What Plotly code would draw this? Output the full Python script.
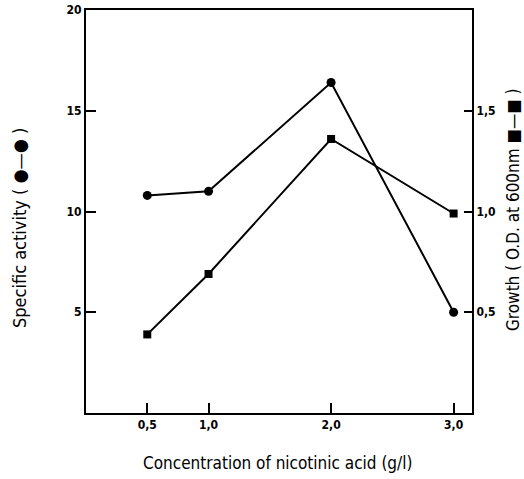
import plotly.graph_objects as go

conc = [0.5, 1.0, 2.0, 3.0]
specific_activity = [10.8, 11.0, 16.4, 5.0]
growth_od = [0.39, 0.69, 1.36, 0.99]

x_tickvals = [0.5, 1.0, 2.0, 3.0]
x_ticktext = ["0,5", "1,0", "2,0", "3,0"]
y1_tickvals = [5, 10, 15, 20]
y1_ticktext = ["5", "10", "15", "20"]
y2_tickvals = [0.5, 1.0, 1.5]
y2_ticktext = ["0,5", "1,0", "1,5"]

FONT = "DejaVu Sans Condensed, DejaVu Sans, sans-serif"

fig = go.Figure()
fig.add_trace(go.Scatter(x=conc, y=specific_activity, mode="lines+markers",
                         line=dict(color="black", width=2),
                         marker=dict(symbol="circle", size=9, color="black"),
                         yaxis="y", showlegend=False))
fig.add_trace(go.Scatter(x=conc, y=growth_od, mode="lines+markers",
                         line=dict(color="black", width=2),
                         marker=dict(symbol="square", size=8, color="black"),
                         yaxis="y2", showlegend=False))

tickfont = dict(family=FONT, size=12, color="black", weight="bold")

fig.update_layout(
    width=524, height=479,
    margin=dict(l=86, r=52, t=10, b=66, autoexpand=False),
    paper_bgcolor="white", plot_bgcolor="white",
    font=dict(family=FONT, color="black"),
    xaxis=dict(range=[0, 3.15], tickvals=x_tickvals, ticktext=x_ticktext,
               ticks="inside", ticklen=10, tickwidth=2, tickcolor="black",
               showline=True, linecolor="black", linewidth=2, mirror=True,
               showgrid=False, zeroline=False, tickfont=tickfont),
    yaxis=dict(range=[0, 20], tickvals=y1_tickvals, ticktext=y1_ticktext,
               ticks="inside", ticklen=10, tickwidth=2, tickcolor="black",
               showline=True, linecolor="black", linewidth=2,
               showgrid=False, zeroline=False, tickfont=tickfont),
    yaxis2=dict(range=[0, 2], tickvals=y2_tickvals, ticktext=y2_ticktext,
                overlaying="y", side="right",
                ticks="inside", ticklen=8, tickwidth=2, tickcolor="black",
                showline=True, linecolor="black", linewidth=2,
                showgrid=False, zeroline=False, tickfont=tickfont),
)

# plot area: x 86..472 (386 px), y 10..413 (403 px)
fig.add_annotation(text="Concentration of nicotinic acid (g/l)",
                   xref="paper", yref="paper", x=(277 - 86) / 386, y=-(463 - 413) / 403,
                   xanchor="center", yanchor="middle", showarrow=False,
                   font=dict(family=FONT, size=17, color="black"))
fig.add_annotation(text="Specific activity ( ●—● )",
                   xref="paper", yref="paper", x=(19 - 86) / 386, y=(413 - 228) / 403,
                   xanchor="center", yanchor="middle", showarrow=False,
                   textangle=-90, font=dict(family=FONT, size=18, color="black"))
fig.add_annotation(text="Growth ( O.D. at 600nm ■—■ )",
                   xref="paper", yref="paper", x=(513 - 86) / 386, y=(413 - 210) / 403,
                   xanchor="center", yanchor="middle", showarrow=False,
                   textangle=-90, font=dict(family=FONT, size=17, color="black"))

fig.write_html("out.html", config={"displayModeBar": False},
               post_script="document.body.style.margin='0';")
